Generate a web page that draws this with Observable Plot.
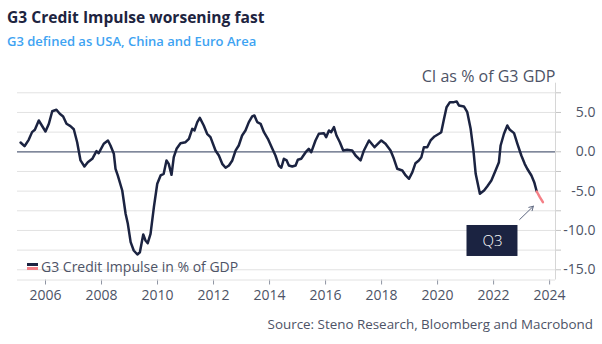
<!DOCTYPE html>
<html>
<head>
<meta charset="utf-8">
<script src="https://cdn.jsdelivr.net/npm/d3@7"></script>
<script src="https://cdn.jsdelivr.net/npm/@observablehq/plot@0.6"></script>
<style>
  body { margin:0; width:602px; height:344px; background:#fff; font-family:"Open Sans", sans-serif; position:relative; overflow:hidden; }
  #title { position:absolute; left:7px; top:6px; font-size:15.6px; font-weight:700; color:#1d2440; white-space:nowrap; }
  #subtitle { position:absolute; left:7px; top:32px; font-size:13px; font-weight:600; color:#3ea3f2; white-space:nowrap; }
  #chart { position:absolute; left:0; top:55px; }
  #legend { position:absolute; left:27px; top:257px; font-size:14px; color:#4d5366; display:flex; align-items:center; white-space:nowrap; }
  #legend .sw { display:inline-block; width:11px; margin-right:3px; }
  #legend .sw span { display:block; height:2.5px; margin:1.5px 0; }
  #source { position:absolute; right:9px; top:315px; font-size:13.4px; color:#4d5366; white-space:nowrap; }
  #chart g[aria-label^="y-axis"] text { text-anchor: end; }
  #chart g[aria-label^="y-axis"] line, #chart g[aria-label^="y-axis"] path { stroke: #c4c4c4; }
  #chart g[aria-label^="x-axis"] line, #chart g[aria-label^="x-axis"] path { stroke: #8f95a3; }
</style>
</head>
<body>
<div id="title">G3 Credit Impulse worsening fast</div>
<div id="subtitle">G3 defined as USA, China and Euro Area</div>
<div id="chart"></div>
<div id="legend"><div class="sw"><span style="background:#1b2341"></span><span style="background:#f47f86"></span></div>G3 Credit Impulse in % of GDP</div>
<div id="source">Source: Steno Research, Bloomberg and Macrobond</div>
<script>
// Historical series (decimal year, % of G3 GDP)
const years = [2005.11,2005.25,2005.40,2005.52,2005.62,2005.76,2006.00,2006.12,2006.24,2006.39,2006.51,2006.63,2006.75,2006.89,2007.01,2007.13,2007.25,2007.39,2007.51,2007.67,2007.82,2007.90,2008.08,2008.23,2008.32,2008.44,2008.50,2008.58,2008.74,2008.86,2008.94,2009.04,2009.15,2009.28,2009.37,2009.49,2009.57,2009.65,2009.75,2009.87,2009.99,2010.11,2010.22,2010.32,2010.40,2010.50,2010.58,2010.68,2010.82,2011.00,2011.12,2011.24,2011.32,2011.42,2011.51,2011.65,2011.77,2011.89,2012.07,2012.19,2012.31,2012.43,2012.55,2012.67,2012.79,2012.90,2013.02,2013.14,2013.26,2013.38,2013.46,2013.56,2013.68,2013.80,2013.94,2014.10,2014.21,2014.33,2014.42,2014.51,2014.61,2014.69,2014.81,2014.93,2015.01,2015.13,2015.29,2015.40,2015.49,2015.64,2015.76,2015.94,2016.02,2016.12,2016.20,2016.30,2016.39,2016.51,2016.63,2016.77,2016.95,2017.07,2017.25,2017.37,2017.55,2017.75,2017.99,2018.14,2018.32,2018.44,2018.56,2018.74,2018.86,2018.98,2019.10,2019.21,2019.33,2019.42,2019.51,2019.63,2019.75,2019.89,2020.05,2020.13,2020.23,2020.32,2020.44,2020.58,2020.68,2020.76,2020.94,2021.06,2021.18,2021.28,2021.36,2021.51,2021.66,2021.77,2021.92,2022.07,2022.19,2022.25,2022.37,2022.49,2022.58,2022.73,2022.85,2022.99,2023.11,2023.20,2023.35,2023.45,2023.54];
const values = [1.18,0.71,1.52,2.50,2.80,3.98,2.58,3.56,5.16,5.34,4.83,4.49,3.56,3.26,2.87,1.22,-1.10,-1.87,-1.32,-0.89,0.08,-0.18,1.02,1.44,0.80,-0.25,-2.16,-3.01,-4.92,-7.88,-9.16,-11.49,-12.55,-13.06,-12.77,-10.51,-11.28,-11.62,-10.43,-7.04,-4.07,-3.01,-2.80,-1.10,-1.53,-2.93,-0.69,0.38,1.09,1.22,1.65,2.92,2.71,3.77,4.32,3.34,2.29,1.86,0.17,-0.47,-1.53,-2.03,-1.74,-1.10,0.17,0.80,2.07,2.71,3.77,4.49,4.62,3.77,3.56,2.49,1.65,0.38,-0.47,-1.74,-2.03,-0.89,-1.10,-1.74,-1.87,-1.74,-1.02,-0.89,-0.05,0.38,-0.05,1.44,2.29,2.37,1.86,2.71,2.49,3.13,2.07,1.22,0.17,0.25,0.17,-0.47,-1.10,0.17,1.44,0.58,1.44,1.02,0.17,-0.89,-2.16,-2.38,-3.01,-3.43,-2.59,-1.45,-1.10,-0.69,0.58,0.58,1.44,1.95,2.29,2.49,4.20,5.67,6.31,6.31,6.40,5.89,5.76,5.04,2.92,0.17,-2.80,-5.34,-4.92,-4.41,-3.65,-2.38,-1.32,0.80,2.29,3.34,2.80,2.37,1.02,-0.47,-1.53,-2.16,-3.01,-3.86,-5.05];
// Q3 estimate segment
const q3Years = [2023.54,2023.65,2023.76];
const q3Values = [-5.05,-5.77,-6.41];

const xTicks = [2006,2008,2010,2012,2014,2016,2018,2020,2022,2024];
const yGrid = [-15,-12.5,-10,-7.5,-5,-2.5,0,2.5,5,7.5];
const yLabels = [-15,-10,-5,0,5];
const unitLabel = ["CI as % of G3 GDP"];
const boxes = [{label:"Q3", x1:2021.05, x2:2022.87, y1:-9.37, y2:-13.31}];
const arrows = [{x1:2022.93, y1:-8.61, x2:2023.42, y2:-6.92}];

const xDomain = [2005.0, 2024.21];
const yDomain = [-16.3, 8.72];

const hist = years.map((x,i)=>({x, y:values[i]}));
const q3 = q3Years.map((x,i)=>({x, y:q3Values[i]}));

const navy = "#1b2341";
const chart = Plot.plot({
  width: 602, height: 260,
  marginTop: 27.7, marginBottom: 35.5, marginLeft: 17, marginRight: 47,
  x: {domain: xDomain, ticks: xTicks, tickFormat: d=>String(d), tickSize:5, tickPadding:5, label:null},
  y: {domain: yDomain, axis:"right", ticks: yGrid, tickSize:5, tickPadding:35, label:null,
      tickFormat: d => yLabels.includes(d) ? d.toFixed(1) : ""},
  style: {fontFamily:"'Open Sans', sans-serif", fontSize:"14px", color:"#4d5366", background:"transparent", overflow:"visible"},
  marks: [
    Plot.ruleY(yGrid, {stroke:"#e2e2e2", strokeWidth:1}),
    Plot.ruleY([yDomain[0]], {stroke:"#e2e2e2"}),
    Plot.ruleX([xDomain[1]], {stroke:"#d6d6d6"}),
    Plot.ruleY([0], {stroke:"#5d6780", strokeWidth:1.2}),
    Plot.text(unitLabel, {frameAnchor:"top-right", dy:-12.7, textAnchor:"end", fontSize:16, fill:"#4d5366"}),
    Plot.line(hist, {x:"x", y:"y", stroke:navy, strokeWidth:2.5, strokeLinejoin:"round"}),
    Plot.line(q3, {x:"x", y:"y", stroke:"#f47f86", strokeWidth:2.5}),
    Plot.arrow(arrows, {x1:"x1", y1:"y1", x2:"x2", y2:"y2", stroke:"#5d6780", strokeWidth:1, headLength:7, bend:0}),
    Plot.rect(boxes, {x1:"x1", x2:"x2", y1:"y1", y2:"y2", fill:navy}),
    Plot.text(boxes, {x:d=>(d.x1+d.x2)/2, y:d=>(d.y1+d.y2)/2, text:"label", fill:"#ffffff", fontSize:15, fontWeight:300})
  ]
});
document.getElementById("chart").appendChild(chart);
</script>
</body>
</html>
